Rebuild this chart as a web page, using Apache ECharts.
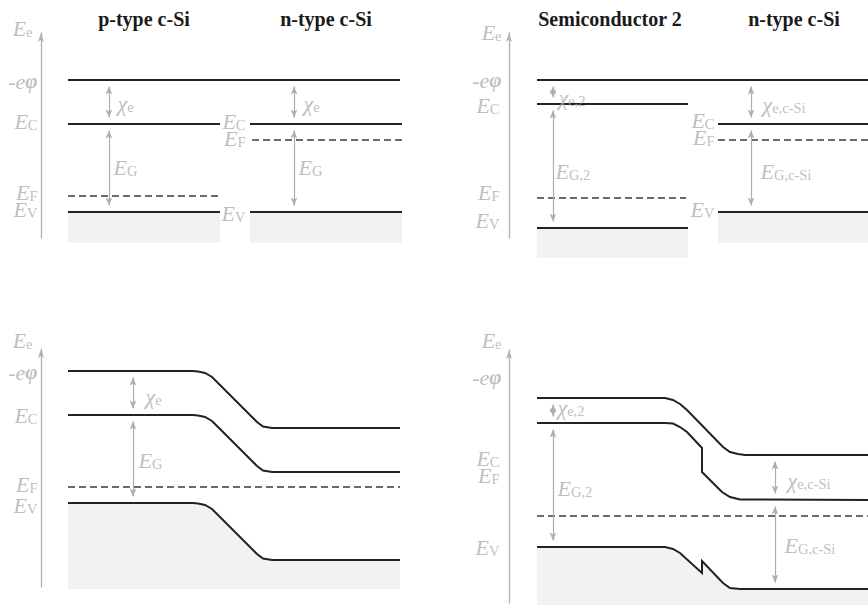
<!DOCTYPE html>
<html><head><meta charset="utf-8">
<script src="https://cdn.jsdelivr.net/npm/echarts@6/dist/echarts.min.js"></script>
<style>html,body{margin:0;padding:0;background:#fff}#c{width:868px;height:605px}</style>
</head><body><div id="c"></div>
<script>
// ---------- titles ----------
const titleTexts = ['p-type c-Si', 'n-type c-Si', 'Semiconductor 2', 'n-type c-Si'];

// ---------- Panel 1: p-type | n-type c-Si (separate, flat bands) ----------
const p1Vac = [[2.7, 15.8], [35.9, 15.8]];
const p1EcP = [[2.7, 11.4], [17.9, 11.4]];
const p1EfP = [[2.7, 4.2], [17.7, 4.2]];
const p1EvP = [[2.7, 2.6], [17.9, 2.6]];
const p1EcN = [[20.9, 11.4], [36.1, 11.4]];
const p1EfN = [[21.1, 9.8], [36.1, 9.8]];
const p1EvN = [[20.9, 2.6], [36.1, 2.6]];
const p1Arrows = [[6.8, 15.8, 11.4], [6.8, 11.4, 2.6], [25.3, 15.8, 11.4], [25.3, 11.4, 2.6]];
const p1AxisLabels = [[-0.8, 21.0, 'E_e'], [-0.3, 15.7, '-eφ'], [-0.3, 11.7, 'E_C'], [-0.3, 4.6, 'E_F'], [-0.3, 2.9, 'E_V']];
const p1MidLabels = [[20.5, 11.65, 'E_C'], [20.5, 10.0, 'E_F'], [20.5, 2.45, 'E_V']];
const p1ArrowLabels = [[7.6, 13.5, 'χ_e'], [7.2, 7.1, 'E_G'], [26.2, 13.5, 'χ_e'], [25.7, 7.1, 'E_G']];

// ---------- Panel 2: Semiconductor 2 | n-type c-Si (separate) ----------
const p2Vac = [[2.8, 15.8], [35.9, 15.8]];
const p2Ec2 = [[2.8, 13.4], [17.9, 13.4]];
const p2Ef2 = [[2.8, 4.0], [17.7, 4.0]];
const p2Ev2 = [[2.8, 1.0], [17.9, 1.0]];
const p2EcSi = [[20.9, 11.4], [35.9, 11.4]];
const p2EfSi = [[20.9, 9.8], [35.9, 9.8]];
const p2EvSi = [[20.9, 2.6], [35.9, 2.6]];
const p2Arrows = [[4.4, 15.8, 13.4], [4.4, 13.4, 1.0], [24.2, 15.8, 11.4], [24.2, 11.4, 2.6]];
const p2AxisLabels = [[-0.7, 20.6, 'E_e'], [-0.7, 15.8, '-eφ'], [-0.9, 13.3, 'E_C'], [-0.9, 4.6, 'E_F'], [-0.9, 1.8, 'E_V']];
const p2MidLabels = [[20.6, 11.8, 'E_C'], [20.6, 10.05, 'E_F'], [20.6, 2.85, 'E_V']];
const p2ArrowLabels = [[4.9, 14.1, 'χ_e,2'], [4.6, 6.7, 'E_G,2'], [25.3, 13.4, 'χ_e,c-Si'], [25.1, 6.7, 'E_G,c-Si']];

// ---------- Panel 3: p/n homojunction (band bending) ----------
const p3Vac = [[2.7, 21.6], [15.2, 21.6], [15.7, 21.55], [16.4, 21.4], [17.1, 21.0], [17.7, 20.4], [21.1, 17.0], [21.6, 16.5], [22.2, 16.05], [23.1, 15.9], [35.9, 15.9]];
const p3Ec = [[2.7, 17.2], [15.2, 17.2], [15.7, 17.15], [16.4, 17.0], [17.1, 16.6], [17.7, 16.0], [21.1, 12.6], [21.6, 12.1], [22.2, 11.65], [23.1, 11.5], [35.9, 11.5]];
const p3Ev = [[2.7, 8.4], [15.2, 8.4], [15.7, 8.35], [16.4, 8.2], [17.1, 7.8], [17.7, 7.2], [21.1, 3.8], [21.6, 3.3], [22.2, 2.85], [23.1, 2.7], [35.9, 2.7]];
const p3Ef = [[2.7, 10.0], [35.9, 10.0]];
const p3Arrows = [[9.2, 21.6, 17.2], [9.2, 17.2, 8.4]];
const p3AxisLabels = [[-0.8, 24.7, 'E_e'], [-0.3, 21.5, '-eφ'], [-0.3, 17.2, 'E_C'], [-0.3, 10.3, 'E_F'], [-0.3, 8.2, 'E_V']];
const p3ArrowLabels = [[10.4, 19.1, 'χ_e'], [9.7, 12.7, 'E_G']];

// ---------- Panel 4: heterojunction (band bending with offsets) ----------
const p4Vac = [[2.8, 20.5], [15.6, 20.5], [16.4, 20.3], [17.1, 19.9], [17.8, 19.3], [21.4, 15.6], [22.1, 15.1], [22.9, 14.9], [23.6, 14.8], [35.9, 14.8]];
const p4Ec = [[2.8, 18.0], [15.6, 18.0], [16.4, 17.95], [17.1, 17.6], [17.8, 17.1], [19.3, 15.5], [19.3, 13.1], [21.3, 11.1], [22.1, 10.6], [23.1, 10.35], [35.9, 10.3]];
const p4Ev = [[2.8, 5.6], [15.6, 5.6], [16.4, 5.4], [17.1, 5.0], [19.3, 3.0], [19.3, 4.2], [21.4, 2.0], [22.1, 1.5], [23.1, 1.4], [35.9, 1.4]];
const p4Ef = [[2.8, 8.7], [35.9, 8.7]];
const p4Arrows = [[4.4, 20.5, 18.0], [4.4, 18.0, 5.6], [26.6, 14.8, 10.3], [26.6, 10.3, 1.4]];
const p4AxisLabels = [[-0.7, 26.3, 'E_e'], [-0.7, 22.6, '-eφ'], [-0.9, 14.5, 'E_C'], [-0.9, 12.8, 'E_F'], [-0.9, 5.6, 'E_V']];
const p4ArrowLabels = [[4.8, 19.6, 'χ_e,2'], [4.8, 11.5, 'E_G,2'], [27.8, 12.3, 'χ_e,c-Si'], [27.5, 5.8, 'E_G,c-Si']];

// ---------- styles / layout ----------
const BLACK = '#222222', DASH = '#3a3a3a', GREY = '#adadad', AXIS = '#b0b0b0', SHADE = '#f1f2f1';
const FONT = '"Liberation Serif", "DejaVu Serif", serif';
const INSET = 0.65;
const grids = [
  { left: 41, top: 33, width: 370, height: 205, xMax: 37, yMax: 20.5 },
  { left: 509, top: 33, width: 359, height: 205, xMax: 35.9, yMax: 20.5 },
  { left: 41, top: 349, width: 370, height: 238, xMax: 37, yMax: 23.8 },
  { left: 509, top: 350, width: 359, height: 253, xMax: 35.9, yMax: 25.3 }
];
const titlePos = [[144, 19], [326, 19], [610, 19], [794, 19]];

const RICH = {
  i: { fontFamily: FONT, fontStyle: 'italic', fontSize: 22, lineHeight: 22, verticalAlign: 'middle', color: GREY },
  b: { fontFamily: FONT, fontStyle: 'italic', fontWeight: 'bold', fontSize: 21, lineHeight: 22, verticalAlign: 'middle', color: GREY },
  s: { fontFamily: FONT, fontSize: 14.5, lineHeight: 15, verticalAlign: 'bottom', color: GREY }
};
function richText(s) {
  if (s === '-eφ') return '{i|-e}{b|φ}';
  const idx = s.indexOf('_');
  if (idx < 0) return '{i|' + s + '}';
  return '{i|' + s.slice(0, idx) + '}{s|' + s.slice(idx + 1) + '}';
}
function solid(gi, pts, shadeTo) {
  const s = { type: 'line', xAxisIndex: gi, yAxisIndex: gi, data: pts, symbol: 'none', clip: false, silent: true,
    animation: false, lineStyle: { color: BLACK, width: 2, join: 'miter' }, z: 3 };
  if (shadeTo !== undefined) s.areaStyle = { color: SHADE, opacity: 1, origin: shadeTo };
  return s;
}
function dashed(gi, pts) {
  return { type: 'line', xAxisIndex: gi, yAxisIndex: gi, data: pts, symbol: 'none', clip: false, silent: true,
    animation: false, lineStyle: { color: DASH, width: 1.4, type: [7, 4] }, z: 3 };
}
function arrows(gi, list) {
  return { type: 'lines', coordinateSystem: 'cartesian2d', xAxisIndex: gi, yAxisIndex: gi, silent: true, animation: false,
    symbol: ['arrow', 'arrow'], symbolSize: [[5, 8], [5, 8]],
    lineStyle: { color: GREY, width: 1.2, opacity: 1, curveness: 0 }, z: 4,
    data: list.map(a => ({ coords: [[a[0], a[1] - INSET], [a[0], a[2] + INSET]] })) };
}
function labels(gi, list, pos) {
  return { type: 'scatter', xAxisIndex: gi, yAxisIndex: gi, silent: true, animation: false, clip: false,
    symbolSize: 1, itemStyle: { color: 'transparent' }, z: 5,
    data: list.map(l => ({ value: [l[0], l[1]], name: l[2] })),
    label: { show: true, position: pos, distance: 0, formatter: p => richText(p.name), rich: RICH, color: GREY } };
}

const series = [
  // panel 1
  solid(0, p1Vac), solid(0, p1EcP), solid(0, p1EvP, -0.5), dashed(0, p1EfP),
  solid(0, p1EcN), solid(0, p1EvN, -0.5), dashed(0, p1EfN),
  arrows(0, p1Arrows), labels(0, p1AxisLabels, 'left'), labels(0, p1MidLabels, 'left'), labels(0, p1ArrowLabels, 'right'),
  // panel 2
  solid(1, p2Vac), solid(1, p2Ec2), solid(1, p2Ev2, -2.0), dashed(1, p2Ef2),
  solid(1, p2EcSi), solid(1, p2EvSi, -0.5), dashed(1, p2EfSi),
  arrows(1, p2Arrows), labels(1, p2AxisLabels, 'left'), labels(1, p2MidLabels, 'left'), labels(1, p2ArrowLabels, 'right'),
  // panel 3
  solid(2, p3Vac), solid(2, p3Ec), solid(2, p3Ev, -0.2), dashed(2, p3Ef),
  arrows(2, p3Arrows), labels(2, p3AxisLabels, 'left'), labels(2, p3ArrowLabels, 'right'),
  // panel 4
  solid(3, p4Vac), solid(3, p4Ec), solid(3, p4Ev, -0.2), dashed(3, p4Ef),
  arrows(3, p4Arrows), labels(3, p4AxisLabels, 'left'), labels(3, p4ArrowLabels, 'right')
];

const chart = echarts.init(document.getElementById('c'), null, { renderer: 'svg', width: 868, height: 605 });
chart.setOption({
  animation: false,
  backgroundColor: '#ffffff',
  grid: grids.map(g => ({ left: g.left, top: g.top, width: g.width, height: g.height, containLabel: false })),
  xAxis: grids.map((g, i) => ({ type: 'value', gridIndex: i, min: 0, max: g.xMax, show: false })),
  yAxis: grids.map((g, i) => ({
    type: 'value', gridIndex: i, min: 0, max: g.yMax,
    axisLine: { show: true, onZero: false, symbol: ['none', 'arrow'], symbolSize: [4.5, 9], lineStyle: { color: AXIS, width: 1.3 } },
    axisTick: { show: false }, axisLabel: { show: false }, splitLine: { show: false }
  })),
  graphic: titleTexts.map((t, i) => ({
    type: 'text', x: titlePos[i][0], y: titlePos[i][1], silent: true,
    style: { text: t, font: 'bold 20px ' + FONT, fill: '#1a1a1a', textAlign: 'center', textVerticalAlign: 'middle' }
  })),
  series: series
});
</script></body></html>
